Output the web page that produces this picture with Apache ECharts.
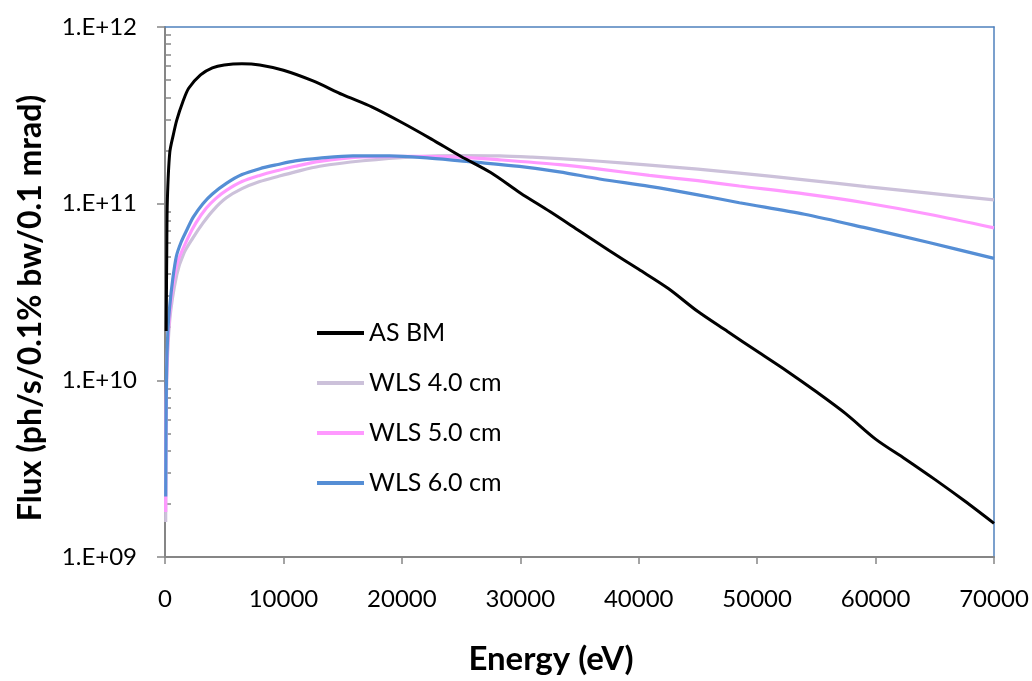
<!DOCTYPE html>
<html>
<head>
<meta charset="utf-8">
<script src="https://cdn.jsdelivr.net/npm/echarts@6/dist/echarts.min.js"></script>
<style>
  html, body { margin: 0; padding: 0; background: #ffffff; }
  #chart { width: 1032px; height: 681px; }
</style>
</head>
<body>
<div id="chart"></div>
<script>
// ---- Data ----
const seriesNames = ['AS BM', 'WLS 4.0 cm', 'WLS 5.0 cm', 'WLS 6.0 cm'];
const xTitle = 'Energy (eV)';
const yTitle = 'Flux (ph/s/0.1% bw/0.1 mrad)';

const energyBM = [100, 150, 200, 400, 700, 1000, 1500, 2000, 3000, 4000, 5000, 6500, 8000, 10000, 12500, 15000, 17500, 20000, 22500, 25000, 27500, 30000, 32500, 35000, 37500, 40000, 42500, 45000, 47500, 50000, 52500, 55000, 57500, 60000, 62500, 65000, 67500, 70000];
const fluxBM   = [1.9e10, 5.5e10, 1.05e11, 1.94e11, 2.45e11, 2.98e11, 3.76e11, 4.5e11, 5.36e11, 5.87e11, 6.1e11, 6.2e11, 6.1e11, 5.69e11, 4.95e11, 4.14e11, 3.52e11, 2.88e11, 2.32e11, 1.85e11, 1.5e11, 1.15e11, 9.02e10, 7.0e10, 5.43e10, 4.25e10, 3.31e10, 2.45e10, 1.89e10, 1.46e10, 1.13e10, 8.61e9, 6.46e9, 4.65e9, 3.59e9, 2.75e9, 2.08e9, 1.55e9];

const energyW4 = [60, 130, 400, 1000, 1600, 2360, 3200, 4100, 5180, 6500, 8000, 9540, 11000, 13060, 16710, 20930, 25150, 28250, 31000, 33300, 36700, 40900, 45000, 48500, 54000, 59200, 64500, 70000];
const fluxW4   = [1.58e9, 8.9e9, 2.19e10, 3.98e10, 5.25e10, 6.4e10, 7.76e10, 9.23e10, 1.079e11, 1.216e11, 1.334e11, 1.426e11, 1.514e11, 1.629e11, 1.75e11, 1.841e11, 1.871e11, 1.862e11, 1.832e11, 1.799e11, 1.738e11, 1.652e11, 1.567e11, 1.489e11, 1.365e11, 1.25e11, 1.148e11, 1.05e11];

const energyW5 = [60, 130, 400, 1000, 1940, 2600, 3490, 4300, 5180, 6500, 8000, 9540, 11000, 13060, 16710, 20930, 25150, 28250, 33300, 36700, 40900, 45000, 48500, 54000, 59200, 64500, 70000];
const fluxW5   = [1.8e9, 1.0e10, 2.4e10, 4.5e10, 6.4e10, 7.76e10, 9.44e10, 1.072e11, 1.189e11, 1.334e11, 1.445e11, 1.542e11, 1.629e11, 1.734e11, 1.837e11, 1.854e11, 1.828e11, 1.77e11, 1.663e11, 1.57e11, 1.445e11, 1.349e11, 1.259e11, 1.135e11, 1.009e11, 8.71e10, 7.29e10];

const energyW6 = [60, 120, 250, 400, 650, 960, 1350, 1800, 2400, 3200, 4000, 5180, 6500, 8000, 9540, 11000, 13060, 15870, 18960, 22340, 26000, 29930, 33300, 36700, 40900, 45000, 48500, 54000, 59200, 64500, 70000];
const fluxW6   = [2.2e9, 1.0e10, 1.94e10, 2.63e10, 3.72e10, 5.04e10, 6.03e10, 7.0e10, 8.41e10, 1.0e11, 1.135e11, 1.303e11, 1.462e11, 1.578e11, 1.667e11, 1.746e11, 1.811e11, 1.866e11, 1.866e11, 1.811e11, 1.722e11, 1.626e11, 1.514e11, 1.38e11, 1.253e11, 1.122e11, 1.012e11, 8.71e10, 7.29e10, 6.03e10, 4.9e10];

const xTicks = [0, 10000, 20000, 30000, 40000, 50000, 60000, 70000];
const yTickLabels = { 9: '1.E+09', 10: '1.E+10', 11: '1.E+11', 12: '1.E+12' };
const minorMultipliers = [2, 3, 4, 5, 6, 7, 8, 9];
const decades = [9, 10, 11];

// ---- Build ----
function zip(xs, ys) { return xs.map((x, i) => [x, ys[i]]); }
const minorTickValues = [];
decades.forEach(d => minorMultipliers.forEach(m => minorTickValues.push(d + Math.log10(m))));

const FONT = 'Lato, "Liberation Sans", sans-serif';
const GRAY = '#868686';
const BORDER = '#4F81BD';
const colors = ['#000000', '#CCC1DA', '#FF99FF', '#558ED5'];
const lineWidths = [3, 3.2, 3.2, 3.2];

const chart = echarts.init(document.getElementById('chart'), null, { renderer: 'canvas' });

const datasets = [zip(energyBM, fluxBM), zip(energyW4, fluxW4), zip(energyW5, fluxW5), zip(energyW6, fluxW6)];
const drawOrder = [1, 2, 3, 0];

chart.setOption({
  animation: false,
  backgroundColor: '#ffffff',
  textStyle: { fontFamily: FONT },
  grid: { left: 165, right: 38, top: 27, bottom: 123, containLabel: false },
  graphic: [{
    type: 'text',
    rotation: Math.PI / 2,
    x: 31,
    y: 308,
    style: {
      text: yTitle,
      font: 'bold 32px ' + FONT,
      fill: '#000',
      textAlign: 'center',
      textVerticalAlign: 'middle'
    }
  }],
  legend: {
    orient: 'vertical',
    left: 312,
    top: 313,
    itemWidth: 47,
    itemHeight: 4,
    itemGap: 20,
    icon: 'rect',
    data: seriesNames,
    textStyle: { fontFamily: FONT, fontSize: 25, color: '#000', lineHeight: 30 }
  },
  xAxis: [{
    type: 'value',
    min: xTicks[0],
    max: xTicks[xTicks.length - 1],
    interval: 10000,
    position: 'bottom',
    name: xTitle,
    nameLocation: 'middle',
    nameGap: 86,
    nameTextStyle: { fontFamily: FONT, fontSize: 33, fontWeight: 'bold', color: '#000', padding: [0, 57, 0, 0] },
    axisLine: { show: true, lineStyle: { color: GRAY, width: 2 } },
    axisTick: { show: true, inside: false, length: 7, lineStyle: { color: GRAY, width: 1.5 } },
    axisLabel: { fontFamily: FONT, fontSize: 24, color: '#000', margin: 30, formatter: v => String(v) },
    splitLine: { show: false }
  }, {
    type: 'value',
    min: 0, max: 70000,
    position: 'top',
    axisLine: { show: true, onZero: false, lineStyle: { color: BORDER, width: 1.5 } },
    axisTick: { show: false }, axisLabel: { show: false }, splitLine: { show: false }
  }],
  yAxis: [{
    type: 'log',
    logBase: 10,
    min: 1e9,
    max: 1e12,
    position: 'left',
    axisLine: { show: true, lineStyle: { color: GRAY, width: 2 } },
    axisTick: { show: true, inside: false, length: 8, lineStyle: { color: GRAY, width: 1.5 } },
    axisLabel: {
      fontFamily: FONT, fontSize: 24, color: '#000', margin: 28,
      formatter: v => yTickLabels[Math.round(Math.log10(v))] || ''
    },
    splitLine: { show: false }
  }, {
    type: 'value',
    min: 9, max: 12,
    position: 'left',
    axisLine: { show: false },
    axisTick: { show: true, inside: true, length: 6, customValues: minorTickValues, lineStyle: { color: GRAY, width: 1.5 } },
    axisLabel: { show: false },
    splitLine: { show: false }
  }, {
    type: 'value',
    min: 0, max: 1,
    position: 'right',
    axisLine: { show: true, onZero: false, lineStyle: { color: BORDER, width: 1.5 } },
    axisTick: { show: false }, axisLabel: { show: false }, splitLine: { show: false }
  }],
  series: drawOrder.map(i => ({
    name: seriesNames[i],
    type: 'line',
    xAxisIndex: 0,
    yAxisIndex: 0,
    data: datasets[i],
    showSymbol: false,
    symbol: 'none',
    smooth: 0.3,
    clip: true,
    z: i === 0 ? 5 : 3,
    itemStyle: { color: colors[i] },
    lineStyle: { color: colors[i], width: lineWidths[i] }
  }))
});
</script>
</body>
</html>
